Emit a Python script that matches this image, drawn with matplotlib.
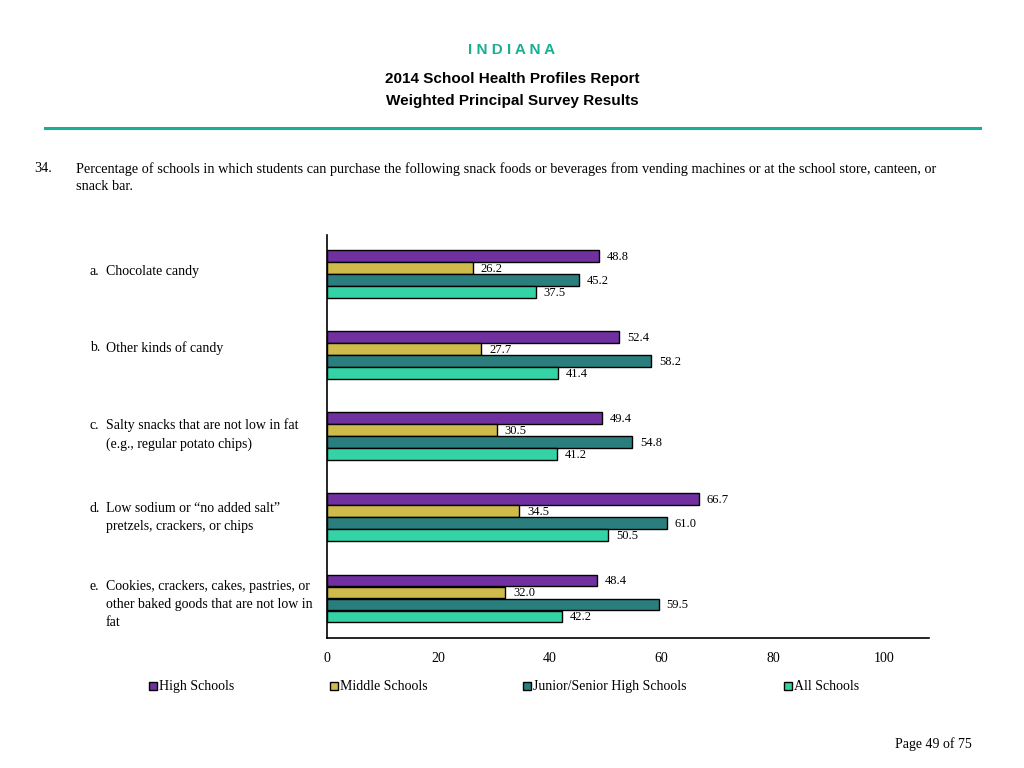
import matplotlib
matplotlib.use("Agg")
import matplotlib.pyplot as plt
import matplotlib.transforms as mtransforms
from matplotlib.patches import Rectangle
import numpy as np

letters = ["a.", "b.", "c.", "d.", "e."]
categories = [
    "Chocolate candy",
    "Other kinds of candy",
    "Salty snacks that are not low in fat\n(e.g., regular potato chips)",
    "Low sodium or \u201cno added salt\u201d\npretzels, crackers, or chips",
    "Cookies, crackers, cakes, pastries, or\nother baked goods that are not low in\nfat",
]
series_names = ["High Schools", "Middle Schools", "Junior/Senior High Schools", "All Schools"]
high = [48.8, 52.4, 49.4, 66.7, 48.4]
middle = [26.2, 27.7, 30.5, 34.5, 32.0]
junior_senior = [45.2, 58.2, 54.8, 61.0, 59.5]
all_schools = [37.5, 41.4, 41.2, 50.5, 42.2]
xticks = [0, 20, 40, 60, 80, 100]

colors = ["#7030A0", "#CFBB4B", "#2A7E7E", "#33D3A6"]
serif = ["Liberation Serif", "DejaVu Serif"]
sans = ["Liberation Sans", "DejaVu Sans"]

W, H = 1024, 768


def fx(px):
    return px / W


def fy(py):
    return 1 - py / H


fig = plt.figure(figsize=(10.24, 7.68), dpi=100)

# Header
fig.text(0.5, fy(50), "I N D I A N A", ha="center", va="center", color="#1BAF91",
         fontsize=11, fontweight="bold", family=sans)
fig.text(0.5, fy(79), "2014 School Health Profiles Report", ha="center", va="center",
         fontsize=11, fontweight="bold", family=sans)
fig.text(0.5, fy(101), "Weighted Principal Survey Results", ha="center", va="center",
         fontsize=11, fontweight="bold", family=sans)
fig.add_artist(plt.Line2D([fx(45), fx(980)], [fy(128), fy(128)], color="#1AAE95", lw=2.2,
                          transform=fig.transFigure))

# Question text
fig.text(fx(34), fy(169), "34.", ha="left", va="center", fontsize=10.3, family=serif)
fig.text(fx(76), fy(169), "Percentage of schools in which students can purchase the following snack foods or beverages from vending machines or at the school store, canteen, or",
         ha="left", va="center", fontsize=10.3, family=serif)
fig.text(fx(76), fy(187), "snack bar.", ha="left", va="center", fontsize=10.3, family=serif)

ax = fig.add_axes([fx(327), fy(638), fx(929) - fx(327), fy(235) - fy(638)])
data = [high, middle, junior_senior, all_schools]
n = len(categories)
y = np.arange(n)
h = 0.148
offsets = [-1.5, -0.5, 0.5, 1.5]
for k, (vals, c) in enumerate(zip(data, colors)):
    ypos = y + offsets[k] * h
    ax.barh(ypos, vals, height=h * 0.95, color=c, edgecolor="black", linewidth=1.0)
    for yy, v in zip(ypos, vals):
        ax.text(v + 1.4, yy + 0.01, f"{v:.1f}", ha="left", va="center", fontsize=9, family=serif)

ax.set_ylim(n - 0.51, -0.48)
ax.set_xlim(0, 108)
ax.set_xticks(xticks)
ax.set_xticklabels([str(t) for t in xticks], family=serif, fontsize=10)
ax.tick_params(axis="x", length=0, pad=10)
ax.set_yticks([])
for s in ["top", "right"]:
    ax.spines[s].set_visible(False)
ax.spines["left"].set_linewidth(1.2)
ax.spines["bottom"].set_linewidth(1.2)

# Category labels
trans = mtransforms.blended_transform_factory(fig.transFigure, ax.transData)
label_offsets = [-0.03, -0.09, -0.02, -0.0, 0.08]
line_h = 0.225
for i, (lt, cat) in enumerate(zip(letters, categories)):
    nl = cat.count("\n") + 1
    yc = i + label_offsets[i]
    ax.text(fx(106), yc, cat, transform=trans, ha="left", va="center", fontsize=10,
            family=serif, linespacing=1.5, clip_on=False)
    ax.text(fx(90), yc - (nl - 1) * line_h / 2, lt, transform=trans, ha="left", va="center",
            fontsize=10, family=serif, clip_on=False)

# Legend
leg_x = [153, 334, 527, 788]
for xpx, name, c in zip(leg_x, series_names, colors):
    fig.add_artist(Rectangle((fx(xpx - 4), fy(690)), fx(8), 8 / H, facecolor=c,
                             edgecolor="black", linewidth=1.0, transform=fig.transFigure))
    fig.text(fx(xpx + 6), fy(690), name, ha="left", va="baseline", fontsize=10, family=serif)

fig.text(fx(972), fy(748), "Page 49 of 75", ha="right", va="baseline", fontsize=10, family=serif)

fig.savefig("out.png", dpi=100)
